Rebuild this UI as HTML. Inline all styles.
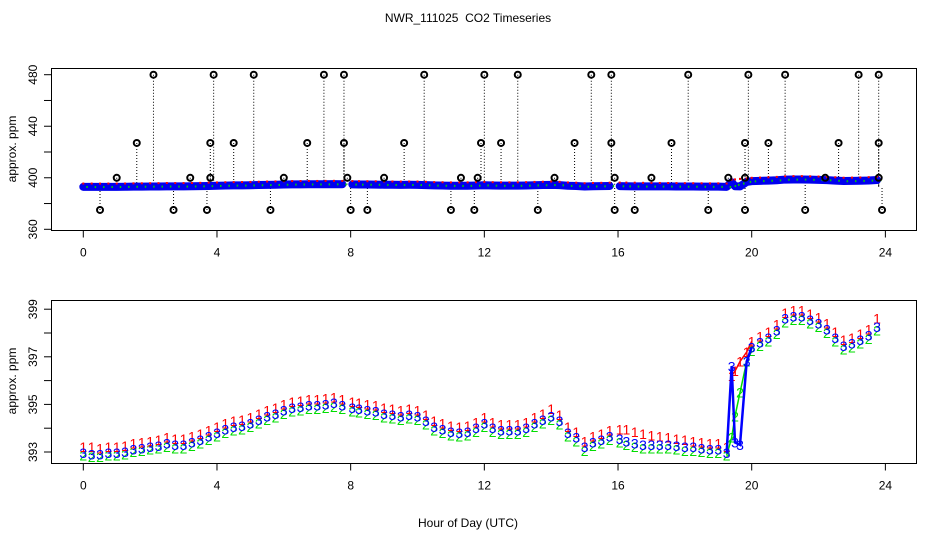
<!DOCTYPE html>
<html><head><meta charset="utf-8"><style>
html,body{margin:0;padding:0;background:#fff;}
svg text{font-family:"Liberation Sans",sans-serif;}
</style></head><body>
<svg id="chart" width="936" height="540" viewBox="0 0 936 540" xmlns="http://www.w3.org/2000/svg">
<text x="468" y="22" font-size="12" text-anchor="middle">NWR_111025&#160; CO2 Timeseries</text>
<rect x="51.5" y="68.5" width="865" height="162" fill="none" stroke="#000" stroke-width="1"/>
<rect x="51.5" y="300.5" width="865" height="163" fill="none" stroke="#000" stroke-width="1"/>
<text transform="translate(16,149) rotate(-90)" font-size="12" text-anchor="middle">approx. ppm</text>
<text transform="translate(16,381) rotate(-90)" font-size="12" text-anchor="middle">approx. ppm</text>
<text x="468" y="527" font-size="12" text-anchor="middle">Hour of Day (UTC)</text>
<g id="g"></g>
</svg>
<script>
const hours = [0,0.25,0.5,0.75,1,1.25,1.5,1.75,2,2.25,2.5,2.75,3,3.25,3.5,3.75,
4,4.25,4.5,4.75,5,5.25,5.5,5.75,6,6.25,6.5,6.75,7,7.25,7.5,7.75,
8.05,8.25,8.5,8.75,9,9.25,9.5,9.75,10,10.25,10.5,10.75,11,11.25,11.5,11.75,
12,12.25,12.5,12.75,13,13.25,13.5,13.75,14,14.25,14.5,14.75,15,15.25,15.5,15.75,
16.05,16.25,16.5,16.75,17,17.25,17.5,17.75,18,18.25,18.5,18.75,19,19.25,19.4,19.5,19.65,19.85,
20,20.25,20.5,20.75,21,21.25,21.5,21.75,22,22.25,22.5,22.75,23,23.25,23.5,23.75];
const series3 = [392.95,392.9,392.9,392.95,392.95,393.0,393.1,393.15,393.2,393.25,393.35,393.3,393.3,393.4,393.5,393.65,
393.8,393.95,394.05,394.1,394.2,394.35,394.5,394.6,394.75,394.85,394.9,394.95,394.95,395.0,395.05,394.95,
394.85,394.8,394.75,394.7,394.6,394.55,394.5,394.55,394.5,394.3,394.05,393.95,393.85,393.8,393.85,394.0,
394.2,394.0,393.9,393.9,393.9,394.0,394.2,394.35,394.5,394.3,393.8,393.6,393.2,393.4,393.5,393.65,
393.55,393.45,393.35,393.3,393.3,393.3,393.3,393.25,393.2,393.2,393.15,393.1,393.1,392.95,396.6,393.4,393.3,396.8,
397.4,397.6,397.8,398.1,398.6,398.7,398.7,398.55,398.4,398.15,397.8,397.45,397.55,397.7,397.9,398.25];
const series1 = [393.2,393.2,393.15,393.2,393.2,393.25,393.35,393.4,393.45,393.5,393.6,393.55,393.55,393.65,393.75,393.9,
394.05,394.2,394.3,394.35,394.45,394.6,394.75,394.85,395.0,395.1,395.15,395.2,395.2,395.25,395.3,395.2,
395.1,395.05,395.0,394.95,394.85,394.8,394.75,394.8,394.75,394.55,394.3,394.2,394.1,394.05,394.1,394.25,
394.45,394.25,394.15,394.15,394.15,394.25,394.45,394.6,394.8,394.55,394.05,393.85,393.45,393.65,393.75,393.9,
393.95,393.95,393.85,393.75,393.7,393.65,393.6,393.55,393.5,393.45,393.4,393.35,393.35,393.2,396.2,396.4,396.8,397.2,
397.65,397.85,398.05,398.35,398.85,398.95,398.95,398.8,398.65,398.4,398.05,397.7,397.8,397.95,398.15,398.6];
const series2 = [392.85,392.8,392.8,392.85,392.85,392.9,393.0,393.05,393.1,393.15,393.2,393.15,393.15,393.25,393.35,393.5,
393.65,393.8,393.9,393.95,394.05,394.2,394.35,394.45,394.6,394.7,394.75,394.8,394.8,394.85,394.9,394.8,
394.7,394.65,394.6,394.55,394.45,394.4,394.35,394.4,394.35,394.15,393.9,393.8,393.7,393.65,393.7,393.85,
394.05,393.85,393.75,393.75,393.75,393.85,394.05,394.2,394.35,394.15,393.65,393.45,393.05,393.25,393.35,393.5,
393.4,393.3,393.2,393.15,393.15,393.15,393.15,393.1,393.05,393.05,393.0,392.95,392.95,392.85,393.6,394.5,395.5,396.8,
397.25,397.45,397.65,397.95,398.45,398.55,398.55,398.4,398.25,398.0,397.65,397.3,397.4,397.55,397.75,398.1];
const flagHours = [2.1,3.9,5.1,7.2,7.8,10.2,12.0,13.0,15.2,15.8,18.1,19.9,21.0,23.2,23.8,
1.6,3.8,4.5,6.7,7.8,9.6,11.9,12.5,14.7,15.8,17.6,19.8,20.5,22.6,23.8,
1.0,3.2,3.8,6.0,7.9,9.0,11.3,11.8,14.1,15.9,17.0,19.3,19.8,22.2,23.8,
0.5,2.7,3.7,5.6,8.0,8.5,11.0,11.7,13.6,15.9,16.5,18.7,19.8,21.6,23.9];
const flagValues = [480,480,480,480,480,480,480,480,480,480,480,480,480,480,480,
427,427,427,427,427,427,427,427,427,427,427,427,427,427,427,
400,400,400,400,400,400,400,400,400,400,400,400,400,400,400,
375,375,375,375,375,375,375,375,375,375,375,375,375,375,375];
const xTicks = [0,4,8,12,16,20,24];
const topYTicks = [360,380,400,420,440,460,480];
const topYLabels = [360,400,440,480];
const botYTicks = [393,394,395,396,397,398,399];
const botYLabels = [393,395,397,399];

const NS="http://www.w3.org/2000/svg", g=document.getElementById('g');
const xs = h => 83.3 + h*33.42;
const yTop = v => 229.3 - (v-360)*1.2883;
const yBot = v => 452 - (v-393)*23.8;
function mk(tag, at, parent){const e=document.createElementNS(NS,tag);for(const k in at)e.setAttribute(k,at[k]);(parent||g).appendChild(e);return e;}

[[230.5,'top'],[463.5,'bottom']].forEach(([by,nm])=>{
  xTicks.forEach(t=>{
    const l=mk('line',{x1:xs(t),x2:xs(t),y1:by,y2:by+7,stroke:'#000'});
    
    
    const tx=mk('text',{x:xs(t),y:by+26,'font-size':12,'text-anchor':'middle'});
    tx.textContent=t;
    
    
  });
});
topYTicks.forEach(v=>{
  const l=mk('line',{x1:44,x2:51.5,y1:yTop(v),y2:yTop(v),stroke:'#000'});
  
  
});
topYLabels.forEach(v=>{
  const t=mk('text',{transform:`translate(37,${yTop(v)}) rotate(-90)`,'font-size':12,'text-anchor':'middle'});
  t.textContent=v;
  
  
});
botYTicks.forEach(v=>{
  const l=mk('line',{x1:44,x2:51.5,y1:yBot(v),y2:yBot(v),stroke:'#000'});
  
  
});
botYLabels.forEach(v=>{
  const t=mk('text',{transform:`translate(37,${yBot(v)}) rotate(-90)`,'font-size':12,'text-anchor':'middle'});
  t.textContent=v;
  
  
});

flagHours.forEach((h,i)=>{
  const v=flagValues[i];
  const base=series3[Math.max(0,hours.findIndex(x=>x>=h))]||393;
  const s=mk('line',{x1:xs(h),x2:xs(h),y1:yTop(v),y2:yTop(base),stroke:'#000','stroke-dasharray':'1,2','stroke-width':1});
  
  
});
function segs(arr){const out=[];let cur=[];hours.forEach((h,i)=>{if(cur.length&&h-hours[i-1]>0.27&&!(h>19&&h<20)){out.push(cur);cur=[];}cur.push([h,arr[i]]);});out.push(cur);return out;}
segs(series3).forEach(sg=>{
  const p=mk('polyline',{points:sg.map(([h,v])=>xs(h)+','+yTop(v)).join(' '),fill:'none',stroke:'#0000ee','stroke-width':8,'stroke-linecap':'round','stroke-linejoin':'round'});
  
  
});
hours.forEach((h,i)=>{
  const r=mk('rect',{x:xs(h)-1,y:yTop(series1[i])-4,width:2,height:2,fill:'#ff0000'});
  
  
  const gr=mk('rect',{x:xs(h)+3,y:yTop(series2[i])-1,width:1.5,height:2,fill:'#00cc00'});
  
  
});
flagHours.forEach((h,i)=>{
  const c=mk('circle',{cx:xs(h),cy:yTop(flagValues[i]),r:3,fill:'none',stroke:'#000','stroke-width':2});
  
  
});

const cols={s1:'#ff0000',s2:'#00dd00',s3:'#0000ff'};
[['s2',series2,'2'],['s1',series1,'1'],['s3',series3,'3']].forEach(([k,arr,ch])=>{
  const sp=[];
  hours.forEach((h,i)=>{ if(h>=19.25&&h<=20) sp.push(xs(h)+','+yBot(arr[i])); });
  const p=mk('polyline',{points:sp.join(' '),fill:'none',stroke:cols[k],'stroke-width':k==='s3'?2.5:1.5});
  
  
  hours.forEach((h,i)=>{
    const t=mk('text',{x:xs(h),y:yBot(arr[i])+5,'font-size':14,'text-anchor':'middle',fill:cols[k]});
    t.textContent=ch;
    
    
  });
});
</script>
</body></html>
